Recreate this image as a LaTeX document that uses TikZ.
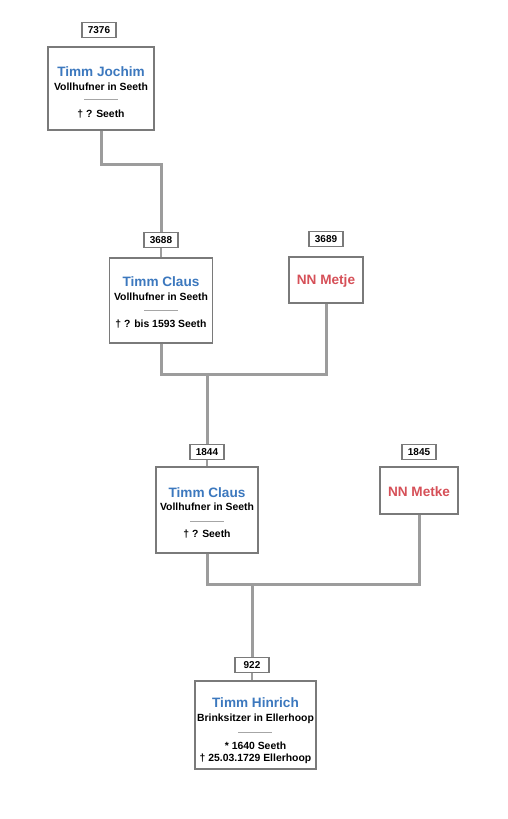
\documentclass[tikz,border=0pt]{standalone}
\usepackage{fontspec}
\setmainfont{Liberation Sans}
\definecolor{nameblue}{HTML}{3C78BE}
\definecolor{namered}{HTML}{D65058}
\definecolor{boxgray}{HTML}{7A7A7A}
\definecolor{linkgray}{HTML}{9C9C9C}
\begin{document}
\begin{tikzpicture}[x=1pt,y=-1pt,
  personbox/.style={draw=boxgray,line width=1.1pt,fill=white,inner sep=0pt},
  numbox/.style={draw=boxgray,line width=1.1pt,fill=white,inner sep=0pt,minimum width=34pt,minimum height=15pt,font=\bfseries\fontsize{10}{10}\selectfont},
  bluename/.style={inner sep=0pt,text=nameblue,font=\bfseries\fontsize{13.6}{14}\selectfont},
  redname/.style={inner sep=0pt,text=namered,font=\bfseries\fontsize{13.6}{14}\selectfont},
  infotext/.style={inner sep=0pt,font=\bfseries\fontsize{10.4}{11}\selectfont},
  link/.style={draw=linkgray,line width=3pt},
  thinlink/.style={draw=linkgray,line width=1.2pt},
  sepline/.style={draw=gray!70,line width=0.6pt}
]
\useasboundingbox[fill=white] (0,0) rectangle (508,819);

% boxes
\node[personbox,minimum width=106pt,minimum height=83pt] (J) at (101,88.5) {};
\node[numbox] (LJ) at (99,30) {7376};
\node[personbox,minimum width=103pt,minimum height=85pt] (C1) at (161,300.5) {};
\node[numbox] (LC1) at (161,240) {3688};
\node[personbox,minimum width=74pt,minimum height=46pt] (M1) at (326,280) {};
\node[numbox] (LM1) at (326,239) {3689};
\node[personbox,minimum width=102pt,minimum height=86pt] (C2) at (207,510) {};
\node[numbox] (LC2) at (207,452) {1844};
\node[personbox,minimum width=78pt,minimum height=47pt] (M2) at (419,490.5) {};
\node[numbox] (LM2) at (419,452) {1845};
\node[personbox,minimum width=121pt,minimum height=88pt] (H) at (255.5,725) {};
\node[numbox] (LH) at (252,665) {922};

% connectors
\coordinate (k1) at (101,164);
\coordinate (k2) at (161,164);
\draw[link] (J.south) -- (k1) -- (k2) -- (LC1.north);
\draw[thinlink] (LC1.south) -- (LC1.south |- C1.north);
\coordinate (m1l) at (161,374);
\coordinate (m1r) at (326,374);
\coordinate (m1d) at (207,374);
\draw[link] (C1.south) -- (m1l) -- (m1r) -- (M1.south);
\draw[link] (m1d) -- (LC2.north);
\draw[thinlink] (LC2.south) -- (LC2.south |- C2.north);
\coordinate (m2l) at (207,584);
\coordinate (m2r) at (419,584);
\coordinate (m2d) at (252,584);
\draw[link] (C2.south) -- (m2l) -- (m2r) -- (M2.south);
\draw[link] (m2d) -- (LH.north);
\draw[thinlink] (LH.south) -- (LH.south |- H.north);

% Timm Jochim
\node[bluename] (Jn) at (101,72) {Timm Jochim};
\node[infotext] (Jo) at (101,87) {Vollhufner in Seeth};
\coordinate (Js1) at (84,99); \coordinate (Js2) at (118,99);
\draw[sepline] (Js1) -- (Js2);
\node[infotext] (Jd) at (101,114) {† ? Seeth};

% Timm Claus 3688
\node[bluename] (C1n) at (161,282) {Timm Claus};
\node[infotext] (C1o) at (161,297) {Vollhufner in Seeth};
\coordinate (C1s1) at (144,310); \coordinate (C1s2) at (178,310);
\draw[sepline] (C1s1) -- (C1s2);
\node[infotext] (C1d) at (161,324) {† ? bis 1593 Seeth};

% NN Metje
\node[redname] (M1n) at (326,281) {NN Metje};

% Timm Claus 1844
\node[bluename] (C2n) at (207,493) {Timm Claus};
\node[infotext] (C2o) at (207,507) {Vollhufner in Seeth};
\coordinate (C2s1) at (190,521); \coordinate (C2s2) at (224,521);
\draw[sepline] (C2s1) -- (C2s2);
\node[infotext] (C2d) at (207,534) {† ? Seeth};

% NN Metke
\node[redname] (M2n) at (419,492) {NN Metke};

% Timm Hinrich
\node[bluename] (Hn) at (255.5,703) {Timm Hinrich};
\node[infotext] (Ho) at (255.5,719) {Brinksitzer in Ellerhoop};
\coordinate (Hs1) at (238,732); \coordinate (Hs2) at (272,732);
\draw[sepline] (Hs1) -- (Hs2);
\node[infotext] (Hb) at (255.5,746) {* 1640 Seeth};
\node[infotext] (Hd) at (255.5,759) {† 25.03.1729 Ellerhoop};
\end{tikzpicture}
\end{document}
